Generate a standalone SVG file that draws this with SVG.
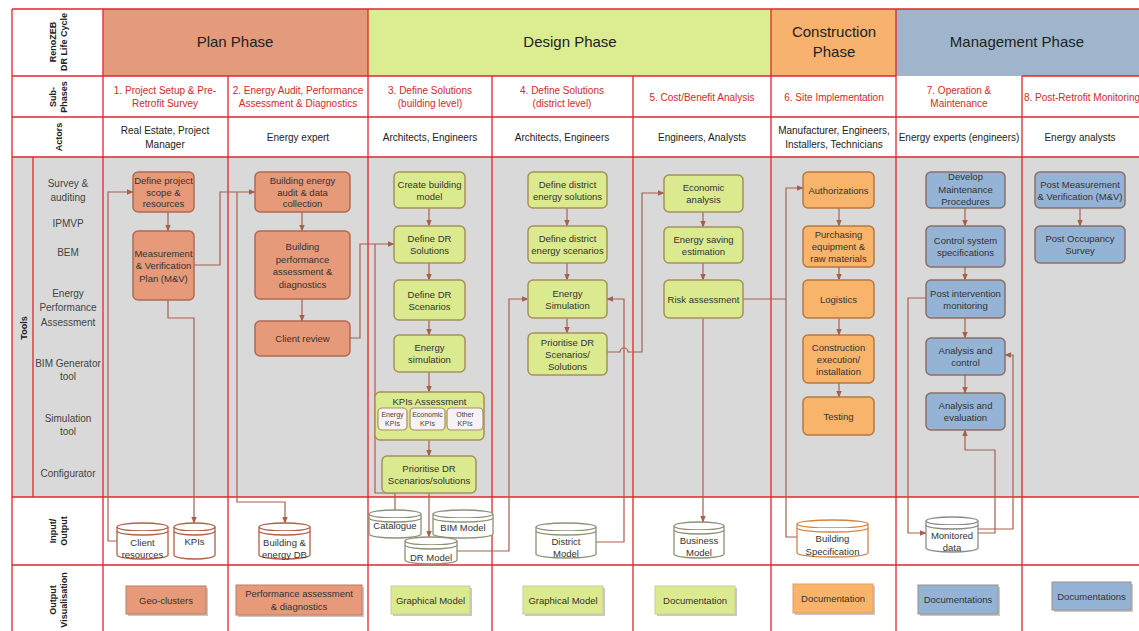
<svg xmlns="http://www.w3.org/2000/svg" width="1139" height="631" viewBox="0 0 1139 631">
<defs>
<marker id="ah" viewBox="0 0 10 10" refX="9" refY="5" markerWidth="6" markerHeight="6" orient="auto">
<path d="M0,1 L10,5 L0,9 z" fill="#a8604c"/>
</marker>
</defs>
<style>
text{font-family:"Liberation Sans Narrow","Liberation Sans",Arial,sans-serif;fill:#333;}
.ph{font-size:15px;text-anchor:middle;fill:#222}
.sp{font-size:10px;text-anchor:middle;fill:#d02a2a}
.ac{font-size:10px;text-anchor:middle;fill:#222}
.rl{font-size:9px;text-anchor:middle;fill:#222;font-weight:bold}
.tl{font-size:10px;text-anchor:middle;fill:#444}
.nt{font-size:9.5px;text-anchor:middle;fill:#333}
.kt{font-size:7px;text-anchor:middle;fill:#444}
.grid{stroke:#e2242b;stroke-width:1.3;fill:none}
.n-plan{fill:#e69a7a;stroke:#b06a52;stroke-width:1.5}
.n-des{fill:#dbea8e;stroke:#a8905e;stroke-width:1.5}
.n-con{fill:#f8b46a;stroke:#b8783e;stroke-width:1.5}
.n-man{fill:#95b3d5;stroke:#8e6e64;stroke-width:1.5}
.kpi{fill:#f7f2f6;stroke:#a8905e;stroke-width:1.2}
.cn{fill:none;stroke:#a8604c;stroke-width:1.2}
.cy-plan{fill:#fff;stroke:#b0604a;stroke-width:1.3}
.cy-des{fill:#fff;stroke:#8f9078;stroke-width:1.3}
.cy-con{fill:#fff;stroke:#d58440;stroke-width:1.3}
.cy-man{fill:#fff;stroke:#8a8a8a;stroke-width:1.3}
.sh{fill:#c8c8c8}
.o-plan{fill:#e69a7a;stroke:#c07a60;stroke-width:1}
.o-des{fill:#dbea8e;stroke:#d0c89a;stroke-width:1}
.o-con{fill:#f8b46a;stroke:#e0a060;stroke-width:1}
.o-man{fill:#95b3d5;stroke:#9a9090;stroke-width:1}
</style>

<!-- backgrounds -->
<rect x="0" y="0" width="1139" height="631" fill="#ffffff"/>
<rect x="12" y="157" width="1127" height="340" fill="#d9d9d9"/>
<rect x="103" y="9" width="265" height="67" fill="#e49b7c"/>
<rect x="368" y="9" width="403" height="67" fill="#dcec90"/>
<rect x="771" y="9" width="125" height="67" fill="#f6b26e"/>
<rect x="896" y="9" width="243" height="67" fill="#9eb5cb"/>

<!-- grid -->
<g id="grid" class="grid">
<line x1="12" y1="9" x2="1139" y2="9"/>
<line x1="12" y1="76" x2="896" y2="76"/>
<line x1="1022" y1="76" x2="1139" y2="76"/>
<line x1="12" y1="117" x2="1139" y2="117"/>
<line x1="12" y1="157" x2="1139" y2="157"/>
<line x1="12" y1="497" x2="1139" y2="497"/>
<line x1="12" y1="565" x2="1139" y2="565"/>
<line x1="12" y1="9" x2="12" y2="631"/>
<line x1="33" y1="157" x2="33" y2="497"/>
<line x1="103" y1="9" x2="103" y2="631"/>
<line x1="228" y1="76" x2="228" y2="631"/>
<line x1="368" y1="9" x2="368" y2="631"/>
<line x1="492" y1="76" x2="492" y2="631"/>
<line x1="633" y1="76" x2="633" y2="631"/>
<line x1="771" y1="9" x2="771" y2="631"/>
<line x1="896" y1="9" x2="896" y2="631"/>
<line x1="1022" y1="76" x2="1022" y2="631"/>
</g>

<!-- row labels -->
<g id="row-labels">
<text class="rl" transform="translate(56,42) rotate(-90)"><tspan x="0" y="0">RenoZEB</tspan><tspan x="0" y="11">DR Life Cycle</tspan></text>
<text class="rl" transform="translate(56,97) rotate(-90)"><tspan x="0" y="0">Sub-</tspan><tspan x="0" y="11">Phases</tspan></text>
<text class="rl" transform="translate(62,137) rotate(-90)">Actors</text>
<text class="rl" transform="translate(27,328) rotate(-90)">Tools</text>
<text class="rl" transform="translate(56,531) rotate(-90)"><tspan x="0" y="0">Input/</tspan><tspan x="0" y="11">Output</tspan></text>
<text class="rl" transform="translate(56,600) rotate(-90)"><tspan x="0" y="0">Output</tspan><tspan x="0" y="11">Visualisation</tspan></text>
</g>

<!-- phases -->
<g id="phases">
<text class="ph" x="235" y="47">Plan Phase</text>
<text class="ph" x="570" y="47">Design Phase</text>
<text class="ph" x="834" y="37">Construction</text>
<text class="ph" x="834" y="57">Phase</text>
<text class="ph" x="1017" y="47">Management Phase</text>
</g>

<!-- sub-phases -->
<g id="subphases">
<text class="sp" x="165" y="94">1. Project Setup &amp; Pre-</text>
<text class="sp" x="165" y="107">Retrofit Survey</text>
<text class="sp" x="298" y="94">2. Energy Audit, Performance</text>
<text class="sp" x="298" y="107">Assessment &amp; Diagnostics</text>
<text class="sp" x="430" y="94">3. Define Solutions</text>
<text class="sp" x="430" y="107">(building level)</text>
<text class="sp" x="562" y="94">4. Define Solutions</text>
<text class="sp" x="562" y="107">(district level)</text>
<text class="sp" x="702" y="101">5. Cost/Benefit Analysis</text>
<text class="sp" x="834" y="101">6. Site Implementation</text>
<text class="sp" x="959" y="94">7. Operation &amp;</text>
<text class="sp" x="959" y="107">Maintenance</text>
<text class="sp" x="1082" y="101">8. Post-Retrofit Monitoring</text>
</g>

<!-- actors -->
<g id="actors">
<text class="ac" x="165" y="134">Real Estate, Project</text>
<text class="ac" x="165" y="148">Manager</text>
<text class="ac" x="298" y="141">Energy expert</text>
<text class="ac" x="430" y="141">Architects, Engineers</text>
<text class="ac" x="562" y="141">Architects, Engineers</text>
<text class="ac" x="702" y="141">Engineers, Analysts</text>
<text class="ac" x="834" y="134">Manufacturer, Engineers,</text>
<text class="ac" x="834" y="148">Installers, Technicians</text>
<text class="ac" x="959" y="141">Energy experts (engineers)</text>
<text class="ac" x="1080" y="141">Energy analysts</text>
</g>

<!-- tools -->
<g id="tools">
<text class="tl" x="68" y="186.5">Survey &amp;</text>
<text class="tl" x="68" y="200.5">auditing</text>
<text class="tl" x="68" y="226.5">IPMVP</text>
<text class="tl" x="68" y="255.5">BEM</text>
<text class="tl" x="68" y="296.5">Energy</text>
<text class="tl" x="68" y="311">Performance</text>
<text class="tl" x="68" y="325.5">Assessment</text>
<text class="tl" x="68" y="366.5">BIM Generator</text>
<text class="tl" x="68" y="380">tool</text>
<text class="tl" x="68" y="421.5">Simulation</text>
<text class="tl" x="68" y="435">tool</text>
<text class="tl" x="68" y="476.5">Configurator</text>
</g>

<!-- connectors -->
<g id="connectors">
<path class="cn" d="M168,212 V231" marker-end="url(#ah)"/>
<path class="cn" d="M302,212 V231" marker-end="url(#ah)"/>
<path class="cn" d="M302,299 V321" marker-end="url(#ah)"/>
<path class="cn" d="M194,265 H220 V192 H255" marker-end="url(#ah)"/>
<path class="cn" d="M117,541 H108 V192 H133" marker-end="url(#ah)"/>
<path class="cn" d="M168,300 V318 H194 V523" marker-end="url(#ah)"/>
<path class="cn" d="M237,192 V502 H285 V523" marker-end="url(#ah)"/>
<path class="cn" d="M350,338 H360 V244 H394" marker-end="url(#ah)"/>
<path class="cn" d="M395,510 V493 H375 V244"/>
<path class="cn" d="M429,208 V226" marker-end="url(#ah)"/>
<path class="cn" d="M429,263 V280" marker-end="url(#ah)"/>
<path class="cn" d="M429,320 V335" marker-end="url(#ah)"/>
<path class="cn" d="M429,372 V392" marker-end="url(#ah)"/>
<path class="cn" d="M429,440 V456" marker-end="url(#ah)"/>
<path class="cn" d="M429,493 V537" marker-end="url(#ah)"/>
<path class="cn" d="M457,551 H509 V299 H528" marker-end="url(#ah)"/>
<path class="cn" d="M567,208 V226" marker-end="url(#ah)"/>
<path class="cn" d="M567,263 V280" marker-end="url(#ah)"/>
<path class="cn" d="M567,318 V333" marker-end="url(#ah)"/>
<path class="cn" d="M596,542 H624 V299 H607" marker-end="url(#ah)"/>
<path class="cn" d="M607,352 H620 A4,4 0 0 1 628,352 H642 V193 H664" marker-end="url(#ah)"/>
<path class="cn" d="M703,212 V227" marker-end="url(#ah)"/>
<path class="cn" d="M703,263 V280" marker-end="url(#ah)"/>
<path class="cn" d="M703,318 V522" marker-end="url(#ah)"/>
<path class="cn" d="M743,299 H786 V188 H803" marker-end="url(#ah)"/>
<path class="cn" d="M798,537 H786 V299"/>
<path class="cn" d="M839,208 V226" marker-end="url(#ah)"/>
<path class="cn" d="M839,267 V280" marker-end="url(#ah)"/>
<path class="cn" d="M839,318 V335" marker-end="url(#ah)"/>
<path class="cn" d="M839,383 V397" marker-end="url(#ah)"/>
<path class="cn" d="M965,208 V226" marker-end="url(#ah)"/>
<path class="cn" d="M965,267 V280" marker-end="url(#ah)"/>
<path class="cn" d="M965,318 V338" marker-end="url(#ah)"/>
<path class="cn" d="M965,375 V393" marker-end="url(#ah)"/>
<path class="cn" d="M926,298 H908 V533 H926" marker-end="url(#ah)"/>
<path class="cn" d="M978,533 H995 V450 H965 V430" marker-end="url(#ah)"/>
<path class="cn" d="M978,529 H1013 V355 H1005" marker-end="url(#ah)"/>
<path class="cn" d="M1080,208 V226" marker-end="url(#ah)"/>
</g>

<!-- Plan nodes -->
<g id="n-define-scope"><rect class="n-plan" x="133" y="172" width="61" height="40" rx="5"/><text class="nt" x="163.5" y="184">Define project</text><text class="nt" x="163.5" y="195.5">scope &amp;</text><text class="nt" x="163.5" y="207">resources</text></g>
<g id="n-mv-plan"><rect class="n-plan" x="133" y="231" width="61" height="69" rx="5"/><text class="nt" x="163.5" y="256.5">Measurement</text><text class="nt" x="163.5" y="269">&amp; Verification</text><text class="nt" x="163.5" y="281.5">Plan (M&amp;V)</text></g>
<g id="n-audit"><rect class="n-plan" x="255" y="172" width="95" height="40" rx="5"/><text class="nt" x="302.5" y="184">Building energy</text><text class="nt" x="302.5" y="195.5">audit &amp; data</text><text class="nt" x="302.5" y="207">collection</text></g>
<g id="n-perf"><rect class="n-plan" x="255" y="231" width="95" height="68" rx="5"/><text class="nt" x="302.5" y="250">Building</text><text class="nt" x="302.5" y="262.5">performance</text><text class="nt" x="302.5" y="275">assessment &amp;</text><text class="nt" x="302.5" y="287.5">diagnostics</text></g>
<g id="n-client-review"><rect class="n-plan" x="255" y="321" width="95" height="35" rx="5"/><text class="nt" x="302.5" y="342">Client review</text></g>

<!-- Design building nodes -->
<g id="n-create-model"><rect class="n-des" x="394" y="172" width="71" height="36" rx="5"/><text class="nt" x="429.5" y="187.5">Create building</text><text class="nt" x="429.5" y="199.5">model</text></g>
<g id="n-dr-solutions"><rect class="n-des" x="394" y="226" width="71" height="37" rx="5"/><text class="nt" x="429.5" y="242">Define DR</text><text class="nt" x="429.5" y="254">Solutions</text></g>
<g id="n-dr-scenarios"><rect class="n-des" x="394" y="280" width="71" height="40" rx="5"/><text class="nt" x="429.5" y="297.5">Define DR</text><text class="nt" x="429.5" y="309.5">Scenarios</text></g>
<g id="n-energy-sim-b"><rect class="n-des" x="394" y="335" width="71" height="37" rx="5"/><text class="nt" x="429.5" y="351">Energy</text><text class="nt" x="429.5" y="363">simulation</text></g>
<g id="n-kpis"><rect class="n-des" x="375" y="392" width="109" height="48" rx="5"/><text class="nt" x="429.5" y="404.5">KPIs Assessment</text>
<rect class="kpi" x="378" y="408" width="29" height="22" rx="4"/><text class="kt" x="392.5" y="417">Energy</text><text class="kt" x="392.5" y="425.5">KPIs</text>
<rect class="kpi" x="410" y="408" width="35" height="22" rx="4"/><text class="kt" x="427.5" y="417">Economic</text><text class="kt" x="427.5" y="425.5">KPIs</text>
<rect class="kpi" x="447" y="408" width="36" height="22" rx="4"/><text class="kt" x="465" y="417">Other</text><text class="kt" x="465" y="425.5">KPIs</text></g>
<g id="n-prioritise-b"><rect class="n-des" x="382" y="456" width="94" height="37" rx="5"/><text class="nt" x="429" y="472">Prioritise DR</text><text class="nt" x="429" y="484">Scenarios/solutions</text></g>

<!-- Design district nodes -->
<g id="n-district-sol"><rect class="n-des" x="528" y="172" width="79" height="36" rx="5"/><text class="nt" x="567.5" y="187.5">Define district</text><text class="nt" x="567.5" y="199.5">energy solutions</text></g>
<g id="n-district-scen"><rect class="n-des" x="528" y="226" width="79" height="37" rx="5"/><text class="nt" x="567.5" y="242">Define district</text><text class="nt" x="567.5" y="254">energy scenarios</text></g>
<g id="n-energy-sim-d"><rect class="n-des" x="528" y="280" width="79" height="38" rx="5"/><text class="nt" x="567.5" y="296.5">Energy</text><text class="nt" x="567.5" y="308.5">Simulation</text></g>
<g id="n-prioritise-d"><rect class="n-des" x="528" y="333" width="79" height="42" rx="5"/><text class="nt" x="567.5" y="345.5">Prioritise DR</text><text class="nt" x="567.5" y="357.5">Scenarios/</text><text class="nt" x="567.5" y="369.5">Solutions</text></g>

<!-- Cost/benefit nodes -->
<g id="n-economic"><rect class="n-des" x="664" y="175" width="79" height="37" rx="5"/><text class="nt" x="703.5" y="191">Economic</text><text class="nt" x="703.5" y="203">analysis</text></g>
<g id="n-saving"><rect class="n-des" x="664" y="227" width="79" height="36" rx="5"/><text class="nt" x="703.5" y="242.5">Energy saving</text><text class="nt" x="703.5" y="254.5">estimation</text></g>
<g id="n-risk"><rect class="n-des" x="664" y="280" width="79" height="38" rx="5"/><text class="nt" x="703.5" y="302.5">Risk assessment</text></g>

<!-- Construction nodes -->
<g id="n-authorizations"><rect class="n-con" x="803" y="172" width="71" height="36" rx="5"/><text class="nt" x="838.5" y="193.5">Authorizations</text></g>
<g id="n-purchasing"><rect class="n-con" x="803" y="226" width="71" height="41" rx="5"/><text class="nt" x="838.5" y="238">Purchasing</text><text class="nt" x="838.5" y="250">equipment &amp;</text><text class="nt" x="838.5" y="262">raw materials</text></g>
<g id="n-logistics"><rect class="n-con" x="803" y="280" width="71" height="38" rx="5"/><text class="nt" x="838.5" y="302.5">Logistics</text></g>
<g id="n-execution"><rect class="n-con" x="803" y="335" width="71" height="48" rx="5"/><text class="nt" x="838.5" y="350.5">Construction</text><text class="nt" x="838.5" y="362.5">execution/</text><text class="nt" x="838.5" y="374.5">installation</text></g>
<g id="n-testing"><rect class="n-con" x="803" y="397" width="71" height="38" rx="5"/><text class="nt" x="838.5" y="419.5">Testing</text></g>

<!-- Management nodes -->
<g id="n-maintenance"><rect class="n-man" x="926" y="172" width="79" height="36" rx="5"/><text class="nt" x="965.5" y="180">Develop</text><text class="nt" x="965.5" y="192.5">Maintenance</text><text class="nt" x="965.5" y="205">Procedures</text></g>
<g id="n-control-spec"><rect class="n-man" x="926" y="226" width="79" height="41" rx="5"/><text class="nt" x="965.5" y="244">Control system</text><text class="nt" x="965.5" y="256">specifications</text></g>
<g id="n-post-monitoring"><rect class="n-man" x="926" y="280" width="79" height="38" rx="5"/><text class="nt" x="965.5" y="296.5">Post intervention</text><text class="nt" x="965.5" y="308.5">monitoring</text></g>
<g id="n-analysis-control"><rect class="n-man" x="926" y="338" width="79" height="37" rx="5"/><text class="nt" x="965.5" y="354">Analysis and</text><text class="nt" x="965.5" y="366">control</text></g>
<g id="n-analysis-eval"><rect class="n-man" x="926" y="393" width="79" height="37" rx="5"/><text class="nt" x="965.5" y="409">Analysis and</text><text class="nt" x="965.5" y="421">evaluation</text></g>
<g id="n-post-mv"><rect class="n-man" x="1035" y="172" width="90" height="36" rx="5"/><text class="nt" x="1080" y="187.5">Post Measurement</text><text class="nt" x="1080" y="199.5">&amp; Verification (M&amp;V)</text></g>
<g id="n-post-occupancy"><rect class="n-man" x="1035" y="226" width="90" height="37" rx="5"/><text class="nt" x="1080" y="242">Post Occupancy</text><text class="nt" x="1080" y="254">Survey</text></g>

<!-- Cylinders -->
<g id="db-client-resources"><path class="cy-plan" d="M117,527 V555 A25.5,4 0 0 0 168,555 V527"/><ellipse class="cy-plan" cx="142.5" cy="527" rx="25.5" ry="4"/><path class="cy-plan" fill="none" d="M117,531 A25.5,4 0 0 0 168,531"/><text class="nt" x="142.5" y="546">Client</text><text class="nt" x="142.5" y="558">resources</text></g>
<g id="db-kpis"><path class="cy-plan" d="M174,527 V555 A20.5,4 0 0 0 215,555 V527"/><ellipse class="cy-plan" cx="194.5" cy="527" rx="20.5" ry="4"/><path class="cy-plan" d="M174,531 A20.5,4 0 0 0 215,531"/><text class="nt" x="194.5" y="545">KPIs</text></g>
<g id="db-building-energy"><path class="cy-plan" d="M259,527 V555 A25.5,4 0 0 0 310,555 V527"/><ellipse class="cy-plan" cx="284.5" cy="527" rx="25.5" ry="4"/><path class="cy-plan" d="M259,531 A25.5,4 0 0 0 310,531"/><text class="nt" x="284.5" y="546">Building &amp;</text><text class="nt" x="284.5" y="558">energy DB</text></g>
<g id="db-catalogue"><path class="cy-des" d="M369,514 V534 A26,4 0 0 0 421,534 V514"/><ellipse class="cy-des" cx="395" cy="514" rx="26" ry="4"/><path class="cy-des" d="M369,518 A26,4 0 0 0 421,518"/><text class="nt" x="395" y="529">Catalogue</text></g>
<g id="db-bim-model"><path class="cy-des" d="M433,514 V534 A30,4 0 0 0 493,534 V514"/><ellipse class="cy-des" cx="463" cy="514" rx="30" ry="4"/><path class="cy-des" d="M433,518 A30,4 0 0 0 493,518"/><text class="nt" x="463" y="531">BIM Model</text></g>
<g id="db-dr-model"><path class="cy-des" d="M405,541 V560 A26,4 0 0 0 457,560 V541"/><ellipse class="cy-des" cx="431" cy="541" rx="26" ry="4"/><path class="cy-des" d="M405,545 A26,4 0 0 0 457,545"/><text class="nt" x="431" y="561">DR Model</text></g>
<g id="db-district-model"><path class="cy-des" d="M536,527 V554 A30,4 0 0 0 596,554 V527"/><ellipse class="cy-des" cx="566" cy="527" rx="30" ry="4"/><path class="cy-des" d="M536,531 A30,4 0 0 0 596,531"/><text class="nt" x="566" y="545">District</text><text class="nt" x="566" y="557">Model</text></g>
<g id="db-business-model"><path class="cy-des" d="M674,526 V554 A25,4 0 0 0 724,554 V526"/><ellipse class="cy-des" cx="699" cy="526" rx="25" ry="4"/><path class="cy-des" d="M674,530 A25,4 0 0 0 724,530"/><text class="nt" x="699" y="544">Business</text><text class="nt" x="699" y="556">Model</text></g>
<g id="db-building-spec"><path class="cy-con" d="M797,524 V553 A35.5,4 0 0 0 868,553 V524"/><ellipse class="cy-con" cx="832.5" cy="524" rx="35.5" ry="4"/><path class="cy-con" d="M797,528 A35.5,4 0 0 0 868,528"/><text class="nt" x="832.5" y="542">Building</text><text class="nt" x="832.5" y="555">Specification</text></g>
<g id="db-monitored"><path class="cy-man" d="M926,521 V548 A26,4 0 0 0 978,548 V521"/><ellipse class="cy-man" cx="952" cy="521" rx="26" ry="4"/><path class="cy-man" d="M926,525 A26,4 0 0 0 978,525"/><text class="nt" x="952" y="539">Monitored</text><text class="nt" x="952" y="551">data</text></g>

<!-- Output visualisation -->
<g id="o-geo"><rect class="sh" x="128" y="588" width="80" height="28"/><rect class="o-plan" x="126" y="586" width="80" height="28"/><text class="nt" x="166" y="603.5">Geo-clusters</text></g>
<g id="o-perf"><rect class="sh" x="238" y="587" width="126" height="30"/><rect class="o-plan" x="236" y="585" width="126" height="30"/><text class="nt" x="299" y="597">Performance assessment</text><text class="nt" x="299" y="609.5">&amp; diagnostics</text></g>
<g id="o-graph-b"><rect class="sh" x="393" y="588" width="79" height="28"/><rect class="o-des" x="391" y="586" width="79" height="28"/><text class="nt" x="430.5" y="603.5">Graphical Model</text></g>
<g id="o-graph-d"><rect class="sh" x="525" y="588" width="80" height="28"/><rect class="o-des" x="523" y="586" width="80" height="28"/><text class="nt" x="563" y="603.5">Graphical Model</text></g>
<g id="o-doc-cb"><rect class="sh" x="657" y="588" width="80" height="28"/><rect class="o-des" x="655" y="586" width="80" height="28"/><text class="nt" x="695" y="603.5">Documentation</text></g>
<g id="o-doc-con"><rect class="sh" x="795" y="586" width="80" height="29"/><rect class="o-con" x="793" y="584" width="80" height="29"/><text class="nt" x="833" y="602">Documentation</text></g>
<g id="o-doc-om"><rect class="sh" x="920" y="587" width="80" height="29"/><rect class="o-man" x="918" y="585" width="80" height="29"/><text class="nt" x="958" y="603">Documentations</text></g>
<g id="o-doc-prm"><rect class="sh" x="1054" y="584" width="79" height="28"/><rect class="o-man" x="1052" y="582" width="79" height="28"/><text class="nt" x="1091.5" y="599.5">Documentations</text></g>
</svg>
